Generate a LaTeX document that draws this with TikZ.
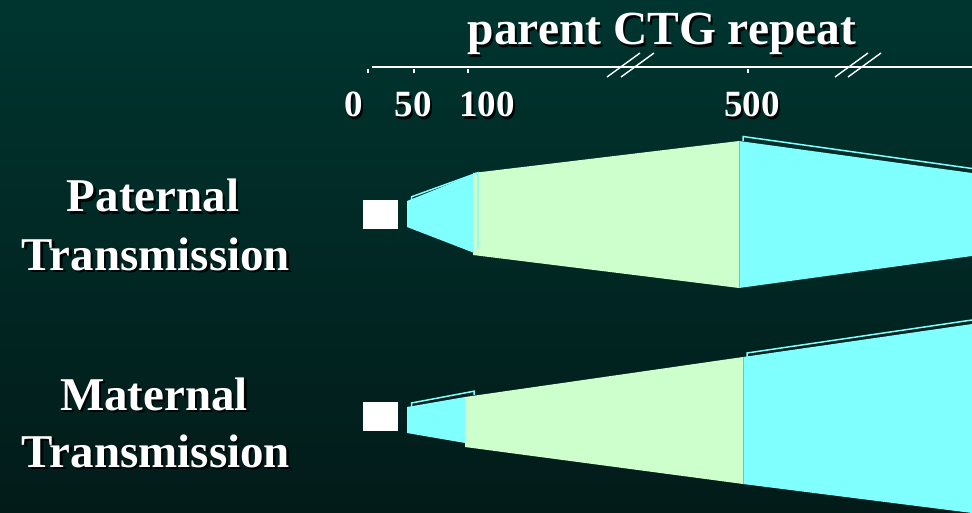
\documentclass[tikz,border=0pt]{standalone}
\usepackage{fontspec}
\setmainfont{Liberation Serif}
\definecolor{bgtop}{RGB}{0,53,47}
\definecolor{bgbot}{RGB}{2,27,25}
\definecolor{cy}{RGB}{128,255,255}
\definecolor{gr}{RGB}{204,255,204}
\definecolor{seam}{RGB}{110,200,175}
\newcommand\shtxt[5]{%
  \node[txtsh,font=\fontsize{#4}{#4}\selectfont\bfseries] at (#2+2.2,#3+2.2) {#5};
  \node[txt,font=\fontsize{#4}{#4}\selectfont\bfseries] (#1) at (#2,#3) {#5};}
\begin{document}
\begin{tikzpicture}[x=1pt,y=-1pt,
  txt/.style={anchor=base,inner sep=0pt,text=white},
  txtsh/.style={anchor=base,inner sep=0pt,text=black!80!bgbot},
  axisline/.style={white,line width=2pt},
  tickline/.style={white,line width=1.5pt},
  slash/.style={white,line width=1.4pt},
  cyfill/.style={fill=cy,draw=none},
  grfill/.style={fill=gr,draw=none},
  rim/.style={draw=cy,line width=1.5pt,line join=miter},
  seamline/.style={draw=seam,line width=0.8pt}]
\useasboundingbox (0,0) rectangle (972,513);
\shade[top color=bgtop,bottom color=bgbot] (0,0) rectangle (972,513);

% title and axis
\shtxt{title}{662}{45}{47.5}{parent CTG repeat}
\draw[axisline] (372,67) coordinate (ax0) -- (972,67) coordinate (ax1);
\draw[tickline] (368,69.5) -- (368,73);
\draw[tickline] (414,69.5) -- (414,73);
\draw[tickline] (468,69.5) -- (468,73);
\draw[tickline] (748,69.5) -- (748,73);
\draw[slash] (607,77) -- (640,53);
\draw[slash] (621,77) -- (654,53);
\draw[slash] (835,77) -- (868,53);
\draw[slash] (848,77) -- (881,53);
\shtxt{n0}{354}{117}{37}{0}
\shtxt{n50}{413}{117}{37}{50}
\shtxt{n100}{487}{117}{37}{100}
\shtxt{n500}{752}{117}{37}{500}

% row labels
\shtxt{pat1}{153}{212}{47}{Paternal}
\shtxt{pat2}{156}{270}{47}{Transmission}
\shtxt{mat1}{154}{410}{47}{Maternal}
\shtxt{mat2}{156}{467}{47}{Transmission}

% paternal transmission
\fill[white] (363,200) rectangle (398,229);
\path[grfill] (473,173) -- (739,141) -- (739,288) -- (473,255) -- cycle;
\path[cyfill] (739,141) -- (972,173) -- (972,256) -- (739,288) -- cycle;
\draw[seamline] (739,141) -- (739,288);
\draw[rim] (743,141) -- (743,136.5) -- (972,168.5);
\path[cyfill] (407,201) -- (473,174.5) -- (473,252.5) -- (407,227) -- cycle;
\draw[rim] (411.5,200) -- (411.5,196.8) -- (477.8,172.8) -- (477.8,249);

% maternal transmission
\fill[white] (363,402) rectangle (398,431);
\draw[rim] (411.5,406) -- (411.5,403) -- (474,391.2) -- (474,395);
\path[cyfill] (407,407) -- (465,397) -- (465,443) -- (407,433) -- cycle;
\path[grfill] (465,397) -- (743,357) -- (743,484) -- (465,447) -- cycle;
\path[cyfill] (743,357) -- (972,324) -- (972,513) -- (743,484) -- cycle;
\draw[seamline] (743,357) -- (743,484);
\draw[rim] (747,357) -- (747,353) -- (972,320);
\end{tikzpicture}
\end{document}
